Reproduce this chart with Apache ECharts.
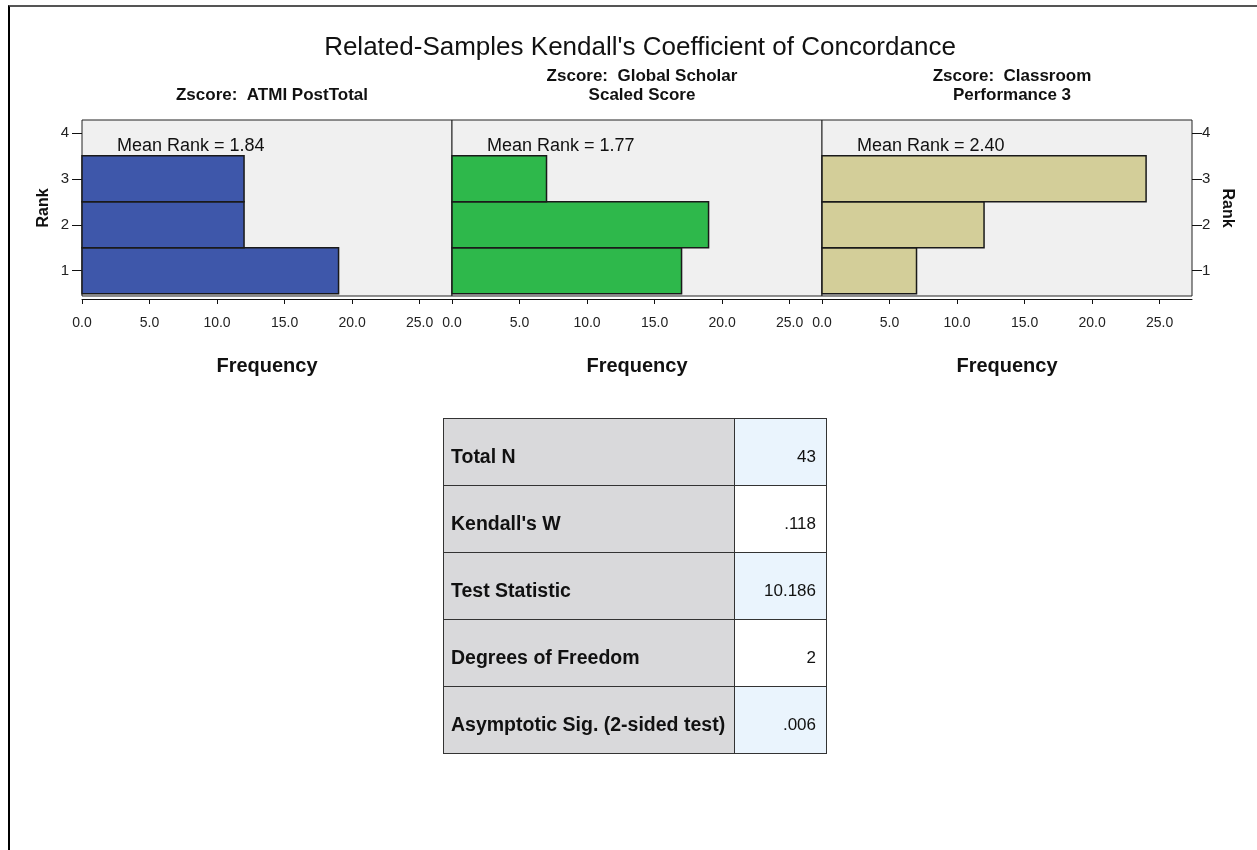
<!DOCTYPE html>
<html>
<head>
<meta charset="utf-8">
<script src="https://cdn.jsdelivr.net/npm/echarts@6/dist/echarts.min.js"></script>
<style>
  body { margin: 0; background: #fff; }
  #frame { position: absolute; left: 8px; top: 5px; width: 1260px; height: 860px;
    border-left: 2px solid #000; border-top: 2px solid #555; }
  #chart { position: absolute; left: 0; top: 0; width: 1257px; height: 850px; }
  #stats { position: absolute; left: 443px; top: 418px; border-collapse: collapse;
    font-family: "Liberation Sans", Arial, sans-serif; color: #111; }
  #stats td { border: 1px solid #333; height: 57px; padding: 9px 7px 0 7px; }
  #stats td.lab { background: #d9d9db; font-weight: bold; font-size: 19.5px; width: 276px; }
  #stats td.val { font-size: 17px; text-align: right; width: 74px; padding-right: 10px; }
</style>
</head>
<body>
<div id="frame"></div>
<div id="chart"></div>
<table id="stats"></table>
<script>
// rank frequencies for each variable
const ranks = [1, 2, 3];
const atmiFreq = [19, 12, 12];
const globalFreq = [17, 19, 7];
const classroomFreq = [7, 12, 24];
const meanRanks = ['1.84', '1.77', '2.40'];
const panelTitles = ['Zscore:  ATMI PostTotal', 'Zscore:  Global Scholar\nScaled Score', 'Zscore:  Classroom\nPerformance 3'];
const barColors = ['#3e57aa', '#2eb84b', '#d3ce99'];
const xTicks = [0, 5, 10, 15, 20, 25];
const yTicks = [1, 2, 3, 4];
const tableLabels = ['Total N', "Kendall's W", 'Test Statistic', 'Degrees of Freedom', 'Asymptotic Sig. (2-sided test)'];
const tableValues = ['43', '.118', '10.186', '2', '.006'];

const freqs = [atmiFreq, globalFreq, classroomFreq];
const font = '"Liberation Sans", Arial, sans-serif';
const gridLeft = [82, 452, 822];

const chart = echarts.init(document.getElementById('chart'));

function renderBar(params, api) {
  var v = api.value(0), r = api.value(1);
  var p0 = api.coord([0, r + 0.5]);
  var p1 = api.coord([v, r - 0.5]);
  return {
    type: 'rect',
    shape: { x: p0[0], y: p0[1], width: p1[0] - p0[0], height: p1[1] - p0[1] },
    style: { fill: api.visual('color'), stroke: '#1a1a1a', lineWidth: 1.5 }
  };
}

var grids = [], xAxes = [], yAxes = [], series = [], titles = [], graphics = [];

titles.push({
  text: "Related-Samples Kendall's Coefficient of Concordance",
  left: 635, top: 30, textAlign: 'center',
  textStyle: { fontFamily: font, fontSize: 26, fontWeight: 'normal', color: '#111' }
});

for (var i = 0; i < 3; i++) {
  grids.push({
    left: gridLeft[i], top: 120, width: 370, height: 176,
    show: true, backgroundColor: '#f0f0f0', borderColor: '#222', borderWidth: 1
  });
  xAxes.push({
    gridIndex: i, type: 'value', min: 0, max: 27.4, offset: 3,
    name: 'Frequency', nameLocation: 'middle', nameGap: 57,
    nameTextStyle: { fontFamily: font, fontSize: 20, fontWeight: 'bold', color: '#111' },
    axisLine: { show: true, onZero: false, lineStyle: { color: '#111', width: 1 } },
    axisTick: { show: true, length: 5, customValues: xTicks, lineStyle: { color: '#111' } },
    axisLabel: { customValues: xTicks, margin: 17, fontFamily: font, fontSize: 14, color: '#222',
      formatter: function (v) { return v.toFixed(1); } },
    splitLine: { show: false }
  });
  var y = {
    gridIndex: i, type: 'value', min: 0.45, max: 4.28,
    position: i === 2 ? 'right' : 'left',
    axisLine: { show: false, onZero: false },
    splitLine: { show: false }
  };
  if (i !== 1) {
    y.axisTick = { show: true, length: 10, customValues: yTicks, lineStyle: { color: '#111' } };
    y.axisLabel = { customValues: yTicks, margin: i === 0 ? 13 : 10, fontFamily: font, fontSize: 15, color: '#222' };
    y.name = 'Rank';
    y.nameLocation = 'middle';
    y.nameGap = i === 0 ? 30 : 27;
    y.nameRotate = i === 0 ? 90 : -90;
    y.nameTextStyle = { fontFamily: font, fontSize: 16, fontWeight: 'bold', color: '#111' };
  } else {
    y.axisTick = { show: false };
    y.axisLabel = { show: false };
  }
  yAxes.push(y);
  series.push({
    type: 'custom', xAxisIndex: i, yAxisIndex: i,
    itemStyle: { color: barColors[i] },
    encode: { x: 0, y: 1 },
    renderItem: renderBar,
    data: ranks.map(function (r, k) { return [freqs[i][k], r]; })
  });
  titles.push({
    text: panelTitles[i], left: gridLeft[i] + 185, bottom: 850 - 110, textAlign: 'center',
    textStyle: { fontFamily: font, fontSize: 17, fontWeight: 'bold', color: '#111', lineHeight: 19 }
  });
  graphics.push({
    type: 'text', left: gridLeft[i] + 35, top: 137,
    style: { text: 'Mean Rank = ' + meanRanks[i], fontFamily: font, fontSize: 18, fill: '#111' }
  });
}

chart.setOption({
  backgroundColor: 'transparent',
  animation: false,
  title: titles,
  grid: grids,
  xAxis: xAxes,
  yAxis: yAxes,
  series: series,
  graphic: graphics
});

// stats table
var tbl = document.getElementById('stats');
tableLabels.forEach(function (lab, k) {
  var tr = document.createElement('tr');
  var a = document.createElement('td');
  a.className = 'lab';
  a.textContent = lab;
  var b = document.createElement('td');
  b.className = 'val';
  b.textContent = tableValues[k];
  b.style.background = k % 2 === 0 ? '#eaf4fd' : '#ffffff';
  tr.appendChild(a);
  tr.appendChild(b);
  tbl.appendChild(tr);
});
</script>
</body>
</html>
